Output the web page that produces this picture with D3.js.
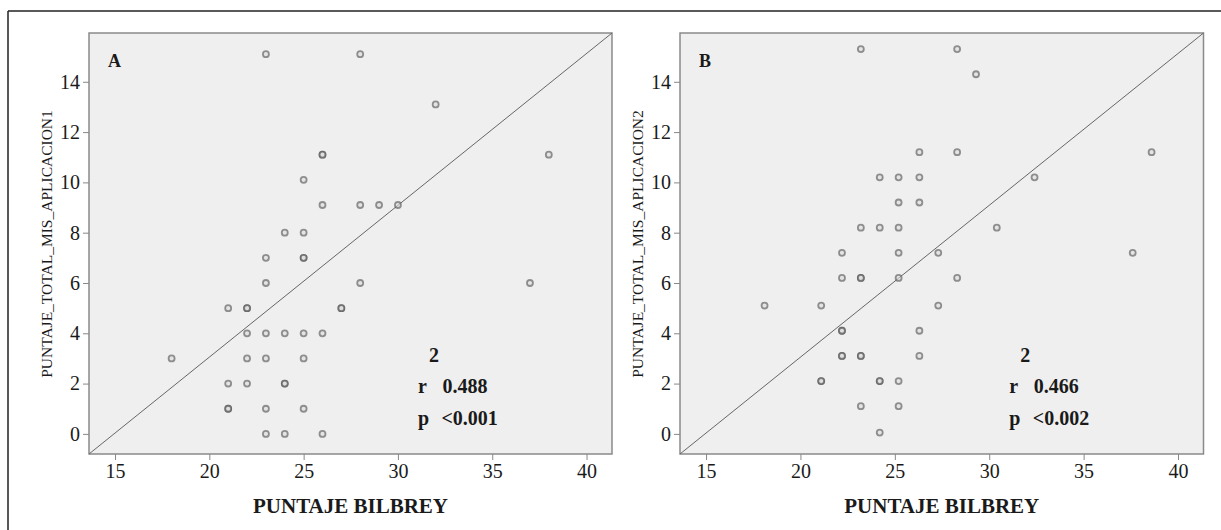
<!DOCTYPE html>
<html>
<head>
<meta charset="utf-8">
<script src="https://cdn.jsdelivr.net/npm/d3@7"></script>
<style>
  body { margin: 0; background: #fff; }
  svg text { font-family: "Liberation Serif", "Times New Roman", serif; fill: #1a1a1a; }
</style>
</head>
<body>
<div id="chart"></div>
<script>
const xTicks = [15, 20, 25, 30, 35, 40];
const yTicks = [0, 2, 4, 6, 8, 10, 12, 14];
const xDomain = [13.62, 41.35];
const yDomain = [-0.8, 15.94];

// panel A: PUNTAJE BILBREY vs PUNTAJE_TOTAL_MIS_APLICACION1 (repeated pairs = overlapping cases)
const bilbreyA = [23, 28, 32, 26, 26, 38, 25, 26, 28, 29, 30, 24, 25, 23, 25, 25, 23, 28, 37,
  21, 22, 22, 27, 27, 22, 23, 24, 25, 26, 18, 22, 23, 25, 21, 22, 24, 24, 21, 21, 23, 25, 23, 24, 26];
const misA = [15.1, 15.1, 13.1, 11.1, 11.1, 11.1, 10.1, 9.1, 9.1, 9.1, 9.1, 8, 8, 7, 7, 7, 6, 6, 6,
  5, 5, 5, 5, 5, 4, 4, 4, 4, 4, 3, 3, 3, 3, 2, 2, 2, 2, 1, 1, 1, 1, 0, 0, 0];

// panel B: PUNTAJE BILBREY vs PUNTAJE_TOTAL_MIS_APLICACION2
const bilbreyB = [23.2, 28.3, 29.3, 26.3, 28.3, 38.6, 24.2, 25.2, 26.3, 32.4, 25.2, 26.3,
  23.2, 24.2, 25.2, 30.4, 22.2, 25.2, 27.3, 37.6, 22.2, 23.2, 23.2, 25.2, 28.3,
  18.1, 21.1, 27.3, 22.2, 22.2, 26.3, 22.2, 22.2, 23.2, 23.2, 26.3,
  21.1, 21.1, 24.2, 24.2, 25.2, 23.2, 25.2, 24.2];
const misB = [15.3, 15.3, 14.3, 11.2, 11.2, 11.2, 10.2, 10.2, 10.2, 10.2, 9.2, 9.2,
  8.2, 8.2, 8.2, 8.2, 7.2, 7.2, 7.2, 7.2, 6.2, 6.2, 6.2, 6.2, 6.2,
  5.1, 5.1, 5.1, 4.1, 4.1, 4.1, 3.1, 3.1, 3.1, 3.1, 3.1,
  2.1, 2.1, 2.1, 2.1, 2.1, 1.1, 1.1, 0.05];

const panelLetters = ['A', 'B'];
const yTitles = ['PUNTAJE_TOTAL_MIS_APLICACION1', 'PUNTAJE_TOTAL_MIS_APLICACION2'];
const xTitle = 'PUNTAJE BILBREY';
const rValues = ['0.488', '0.466'];
const pValues = ['<0.001', '<0.002'];

const width = 1221, height = 530;
const svg = d3.select('#chart').append('svg')
  .attr('width', width).attr('height', height);

// outer frame (top + left edges visible)
svg.append('line').attr('x1', 8).attr('y1', 11).attr('x2', width).attr('y2', 11)
  .attr('stroke', '#222').attr('stroke-width', 1.5);
svg.append('line').attr('x1', 8).attr('y1', 11).attr('x2', 8).attr('y2', height)
  .attr('stroke', '#222').attr('stroke-width', 1.5);

const panels = [
  { left: 89, right: 612, xs: bilbreyA, ys: misA, titleX: 52 },
  { left: 680, right: 1203.5, xs: bilbreyB, ys: misB, titleX: 643 }
];
const plotTop = 33, plotBottom = 454;

panels.forEach((p, i) => {
  const x = d3.scaleLinear().domain(xDomain).range([p.left, p.right]);
  const y = d3.scaleLinear().domain(yDomain).range([plotBottom, plotTop]);
  const g = svg.append('g');

  g.append('rect')
    .attr('x', p.left).attr('y', plotTop)
    .attr('width', p.right - p.left).attr('height', plotBottom - plotTop)
    .attr('fill', '#efefef').attr('stroke', '#8a8a8a').attr('stroke-width', 1.5);

  // reference line corner to corner
  g.append('line')
    .attr('x1', x(xDomain[0])).attr('y1', y(yDomain[0]))
    .attr('x2', x(xDomain[1])).attr('y2', y(yDomain[1]))
    .attr('stroke', '#666').attr('stroke-width', 1);

  const xAxis = g.append('g').attr('transform', `translate(0,${plotBottom})`)
    .call(d3.axisBottom(x).tickValues(xTicks).tickSize(6).tickPadding(4));
  const yAxis = g.append('g').attr('transform', `translate(${p.left},0)`)
    .call(d3.axisLeft(y).tickValues(yTicks).tickSize(6).tickPadding(3));
  [xAxis, yAxis].forEach(a => {
    a.select('.domain').remove();
    a.selectAll('.tick line').attr('stroke', '#888');
    a.selectAll('.tick text').attr('fill', '#1a1a1a')
      .style('font-family', '"Liberation Serif", serif').style('font-size', '20px');
  });

  const pts = p.xs.map((v, k) => ({ x: v, y: p.ys[k] }));
  g.append('g').selectAll('circle')
    .data(pts).join('circle')
    .attr('cx', d => x(d.x)).attr('cy', d => y(d.y))
    .attr('r', 3)
    .attr('fill', '#dcdcdc').attr('fill-opacity', 0.6)
    .attr('stroke', '#505050').attr('stroke-opacity', 0.6).attr('stroke-width', 1.8);

  g.append('text')
    .attr('x', p.left + 19).attr('y', 67)
    .style('font-size', '18px').style('font-weight', 'bold')
    .text(panelLetters[i]);

  g.append('text')
    .attr('transform', `translate(${p.titleX},244) rotate(-90)`)
    .attr('text-anchor', 'middle')
    .style('font-size', '15.5px')
    .text(yTitles[i]);

  g.append('text')
    .attr('x', (p.left + p.right) / 2).attr('y', 513)
    .attr('text-anchor', 'middle')
    .style('font-size', '21px').style('font-weight', 'bold')
    .text(xTitle);

  // r / p annotation
  const sx = p.left + (p.right - p.left) * 0.629;
  const stats = g.append('g').style('font-size', '20px').style('font-weight', 'bold');
  stats.append('text').attr('x', sx + 11).attr('y', 362).text('2');
  stats.append('text').attr('x', sx).attr('y', 393).text('r');
  stats.append('text').attr('x', sx + 24.5).attr('y', 393).text(rValues[i]);
  stats.append('text').attr('x', sx).attr('y', 425).text('p');
  stats.append('text').attr('x', sx + 23.5).attr('y', 425).text(pValues[i]);
});
</script>
</body>
</html>
